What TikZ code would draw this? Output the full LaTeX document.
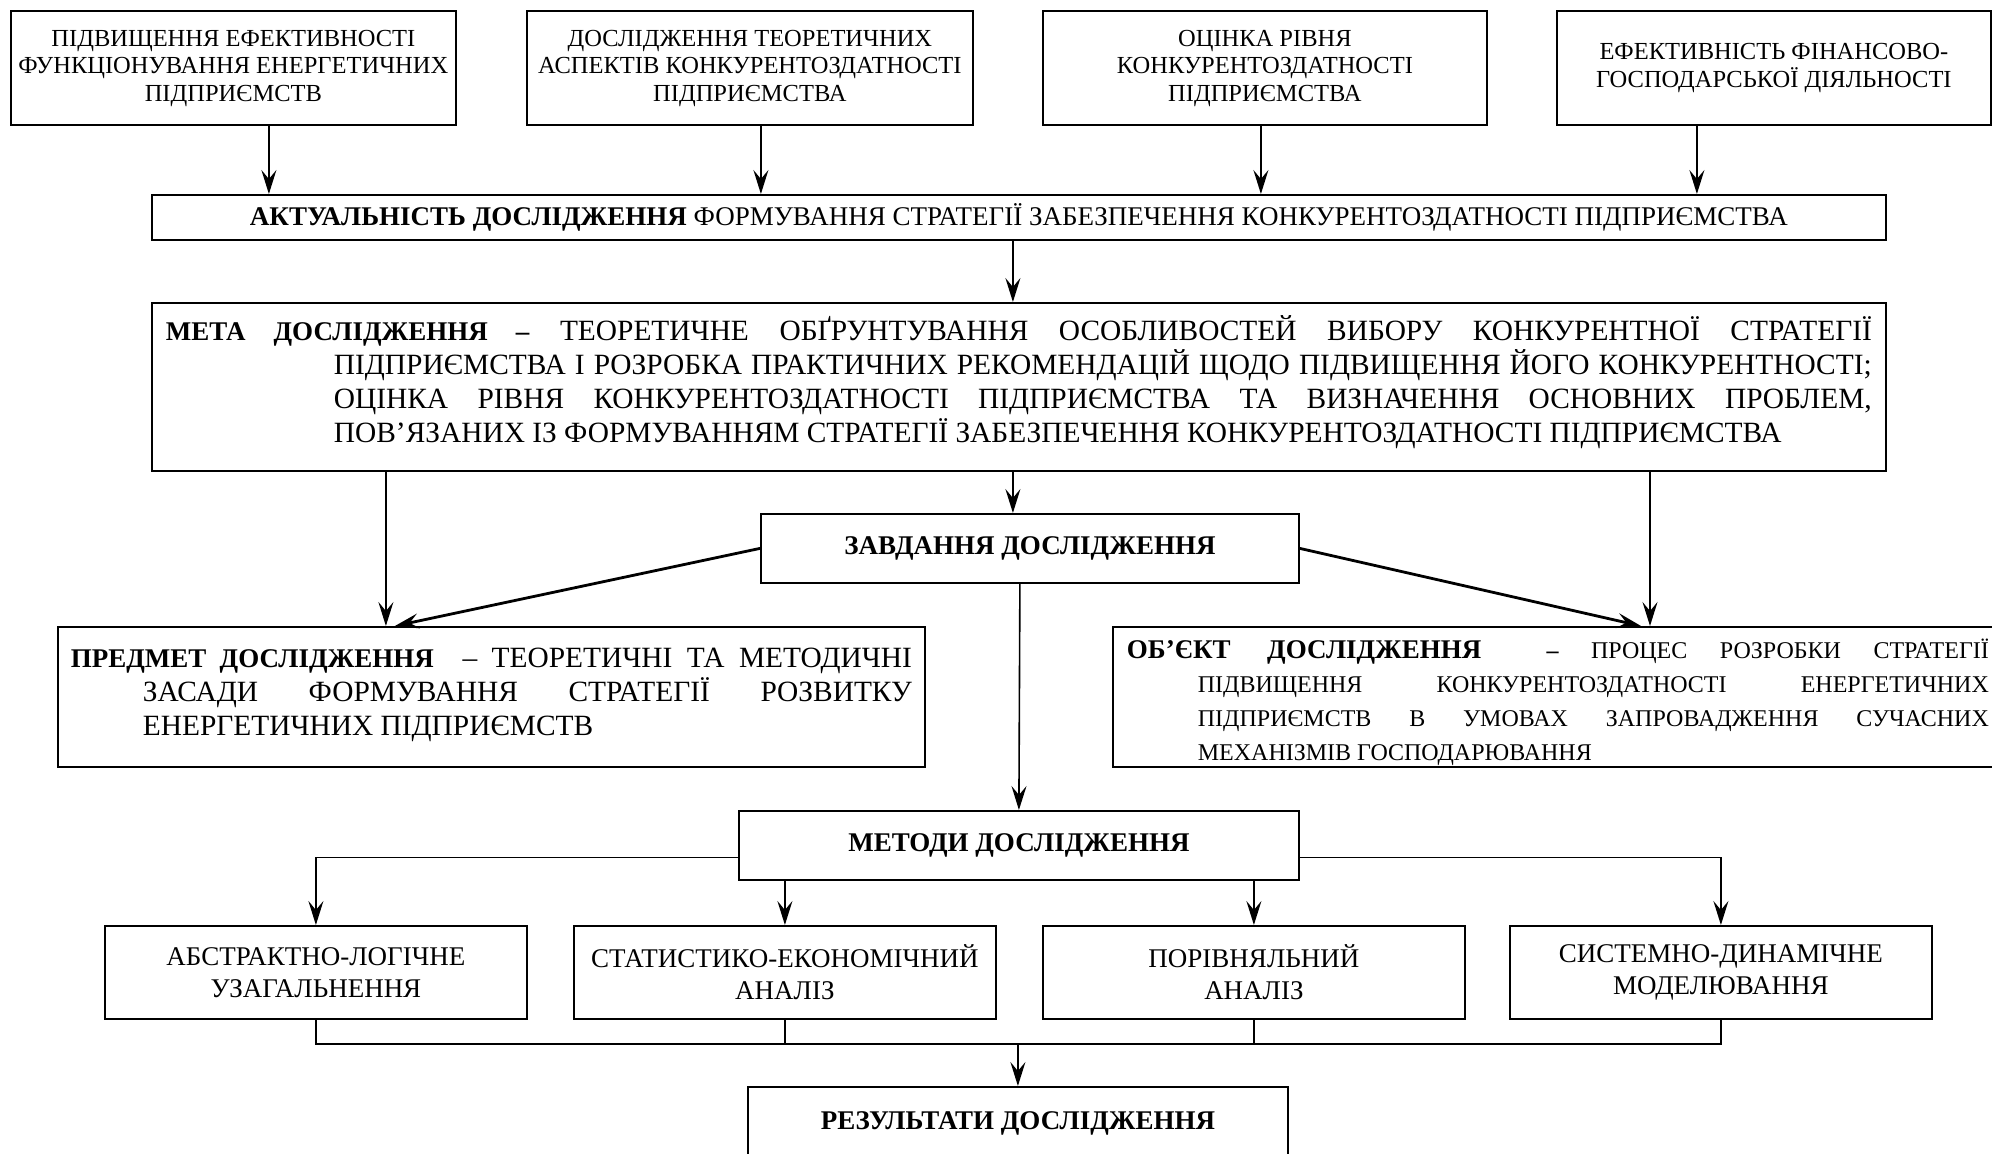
\documentclass[tikz,border=0pt]{standalone}
\usepackage{fontspec}
\setmainfont{Liberation Serif}
\usetikzlibrary{arrows.meta,calc}

\newcommand{\topsize}{\fontsize{12.25pt}{13.8pt}\selectfont}
\newcommand{\aktsize}{\fontsize{13.5pt}{15pt}\selectfont}
\newcommand{\metasize}{\fontsize{14.7pt}{17pt}\selectfont}
\newcommand{\obsize}{\fontsize{12pt}{17pt}\selectfont}
\newcommand{\headsize}{\fontsize{13.5pt}{15pt}\selectfont\bfseries}
\newcommand{\methsize}{\fontsize{13.5pt}{16pt}\selectfont}
\newcommand{\lead}[1]{{\fontsize{13.5pt}{17pt}\selectfont\textbf{#1}}}

\tolerance=10000
\hbadness=10000

\tikzset{
  box/.style={draw, line width=0.9pt, anchor=north west, inner sep=0pt, align=center},
  textbox/.style={box, inner xsep=7pt},
  arr/.style={line width=0.8pt, -{Stealth[length=12pt,width=7.5pt,inset=4.5pt]}},
  thickarr/.style={arr, line width=1.4pt},
  bus/.style={line width=0.8pt}
}

\begin{document}
\begin{tikzpicture}[x=0.5pt,y=-0.5pt]
            \useasboundingbox (0,0) rectangle (1992,1154);
            \clip (0,0) rectangle (1992,1154);

            % Drawing top boxes
            \node[box, font=\topsize, minimum width=222.5pt, minimum height=57.25pt] (b1) at (10,10) {ПІДВИЩЕННЯ ЕФЕКТИВНОСТІ\\ФУНКЦІОНУВАННЯ ЕНЕРГЕТИЧНИХ\\ПІДПРИЄМСТВ};%
            \node[box, font=\topsize, minimum width=223pt, minimum height=57.25pt] (b2) at (526,10) {ДОСЛІДЖЕННЯ ТЕОРЕТИЧНИХ\\АСПЕКТІВ КОНКУРЕНТОЗДАТНОСТІ\\ПІДПРИЄМСТВА};%
            \node[box, font=\topsize, minimum width=222pt, minimum height=57.25pt] (b3) at (1042,10) {ОЦІНКА РІВНЯ\\КОНКУРЕНТОЗДАТНОСТІ\\ПІДПРИЄМСТВА};%
            \node[box, font=\topsize, minimum width=217pt, minimum height=57.25pt] (b4) at (1556,10) {ЕФЕКТИВНІСТЬ ФІНАНСОВО-\\ГОСПОДАРСЬКОЇ ДІЯЛЬНОСТІ};%

            % Drawing box akt
            \node[box, font=\aktsize, minimum width=867pt, minimum height=22.5pt] (akt) at (151,194) {\textbf{АКТУАЛЬНІСТЬ ДОСЛІДЖЕННЯ} ФОРМУВАННЯ СТРАТЕГІЇ ЗАБЕЗПЕЧЕННЯ КОНКУРЕНТОЗДАТНОСТІ ПІДПРИЄМСТВА};%

            % Drawing box meta
            \node[textbox, font=\metasize, minimum height=84pt] (meta) at (151,302) {\parbox{853pt}{\hangindent=84pt\hangafter=1\noindent\lead{МЕТА ДОСЛІДЖЕННЯ –} ТЕОРЕТИЧНЕ ОБҐРУНТУВАННЯ ОСОБЛИВОСТЕЙ ВИБОРУ КОНКУРЕНТНОЇ СТРАТЕГІЇ\linebreak ПІДПРИЄМСТВА І РОЗРОБКА ПРАКТИЧНИХ РЕКОМЕНДАЦІЙ ЩОДО ПІДВИЩЕННЯ ЙОГО КОНКУРЕНТНОСТІ;\linebreak ОЦІНКА РІВНЯ КОНКУРЕНТОЗДАТНОСТІ ПІДПРИЄМСТВА ТА ВИЗНАЧЕННЯ ОСНОВНИХ ПРОБЛЕМ,\linebreak ПОВ’ЯЗАНИХ ІЗ ФОРМУВАННЯМ СТРАТЕГІЇ ЗАБЕЗПЕЧЕННЯ КОНКУРЕНТОЗДАТНОСТІ ПІДПРИЄМСТВА\par\vspace*{5pt}}};%

            % Drawing box zavd
            \node[box, font=\headsize, minimum width=269pt, minimum height=34.5pt] (zavd) at (760,513) {ЗАВДАННЯ ДОСЛІДЖЕННЯ};%

            % Drawing box predmet
            \node[textbox, font=\metasize, inner xsep=6.5pt, minimum height=70pt] (predmet) at (57,626) {\parbox{420.5pt}{\hangindent=36pt\hangafter=1\noindent\lead{ПРЕДМЕТ ДОСЛІДЖЕННЯ}\ \ – ТЕОРЕТИЧНІ ТА МЕТОДИЧНІ\linebreak ЗАСАДИ ФОРМУВАННЯ СТРАТЕГІЇ РОЗВИТКУ\linebreak ЕНЕРГЕТИЧНИХ ПІДПРИЄМСТВ\par\vspace*{2pt}}};%

            % Drawing box obiekt
            \node[textbox, font=\obsize, minimum height=70pt] (obiekt) at (1112,626) {\parbox{431pt}{\vspace*{5pt}\hangindent=35.5pt\hangafter=1\noindent\lead{ОБ’ЄКТ ДОСЛІДЖЕННЯ}\ \ \textbf{–} ПРОЦЕС РОЗРОБКИ СТРАТЕГІЇ\linebreak ПІДВИЩЕННЯ КОНКУРЕНТОЗДАТНОСТІ ЕНЕРГЕТИЧНИХ\linebreak ПІДПРИЄМСТВ В УМОВАХ ЗАПРОВАДЖЕННЯ СУЧАСНИХ\linebreak МЕХАНІЗМІВ ГОСПОДАРЮВАННЯ}};%

            % Drawing box metody
            \node[box, font=\headsize, minimum width=280pt, minimum height=34.5pt] (metody) at (738,810) {МЕТОДИ ДОСЛІДЖЕННЯ};%

            % Drawing method boxes
            \node[box, font=\methsize, minimum width=211pt, minimum height=46.5pt] (m1) at (104,925) {АБСТРАКТНО-ЛОГІЧНЕ\\УЗАГАЛЬНЕННЯ};%
            \node[box, font=\methsize, minimum width=211pt, minimum height=46.5pt] (m2) at (573,925) {СТАТИСТИКО-ЕКОНОМІЧНИЙ\\АНАЛІЗ};%
            \node[box, font=\methsize, minimum width=211pt, minimum height=46.5pt] (m3) at (1042,925) {ПОРІВНЯЛЬНИЙ\\АНАЛІЗ};%
            \node[box, font=\methsize, minimum width=211pt, minimum height=46.5pt] (m4) at (1509,925) {СИСТЕМНО-ДИНАМІЧНЕ\\МОДЕЛЮВАННЯ};%

            % Drawing box rez
            \node[box, font=\headsize, minimum width=270pt, minimum height=37pt] (rez) at (747,1086) {РЕЗУЛЬТАТИ ДОСЛІДЖЕННЯ};%

            % Drawing arrows top -> akt
            \draw[arr] ([xshift=17.75pt]b1.south) -- ([xshift=17.75pt]b1.south |- akt.north);%
            \draw[arr] ([xshift=5.5pt]b2.south) -- ([xshift=5.5pt]b2.south |- akt.north);%
            \draw[arr] ([xshift=-2pt]b3.south) -- ([xshift=-2pt]b3.south |- akt.north);%
            \draw[arr] ([xshift=-38.5pt]b4.south) -- ([xshift=-38.5pt]b4.south |- akt.north);%

            % Drawing arrow akt -> meta
            \draw[arr] ([xshift=-3pt]akt.south) -- ([xshift=-3pt]akt.south |- meta.north);%

            % Drawing arrows meta -> predmet, zavd, obiekt
            \draw[arr] ([xshift=-52.75pt]predmet.north |- meta.south) -- ([xshift=-52.75pt]predmet.north);%
            \draw[arr] ([xshift=-8.5pt]zavd.north |- meta.south) -- ([xshift=-8.5pt]zavd.north);%
            \draw[arr] ([xshift=269pt]obiekt.north west |- meta.south) -- ([xshift=269pt]obiekt.north west);%

            % Drawing arrows from zavd
            \draw[thickarr] (zavd.west) -- ([xshift=-48.25pt]predmet.north);%
            \draw[thickarr] (zavd.east) -- ([xshift=264.5pt]obiekt.north west);%
            \draw[arr] ([xshift=-5pt]zavd.south) -- (metody.north);%

            % Drawing arrows metody -> methods
            \draw[arr] ([yshift=-6pt]metody.west) -| (m1.north);%
            \draw[arr] ([yshift=-6pt]metody.east) -| (m4.north);%
            \draw[arr] (metody.south -| m2.north) -- (m2.north);%
            \draw[arr] (metody.south -| m3.north) -- (m3.north);%

            % Drawing bus methods -> rez
            \draw[bus] (m1.south) -- ++(0,-12pt) -| (m4.south);%
            \draw[bus] (m2.south) -- ++(0,-12pt);%
            \draw[bus] (m3.south) -- ++(0,-12pt);%
            \draw[arr] ([yshift=-12pt]m2.south -| rez.north) -- (rez.north);%
\end{tikzpicture}
\end{document}
